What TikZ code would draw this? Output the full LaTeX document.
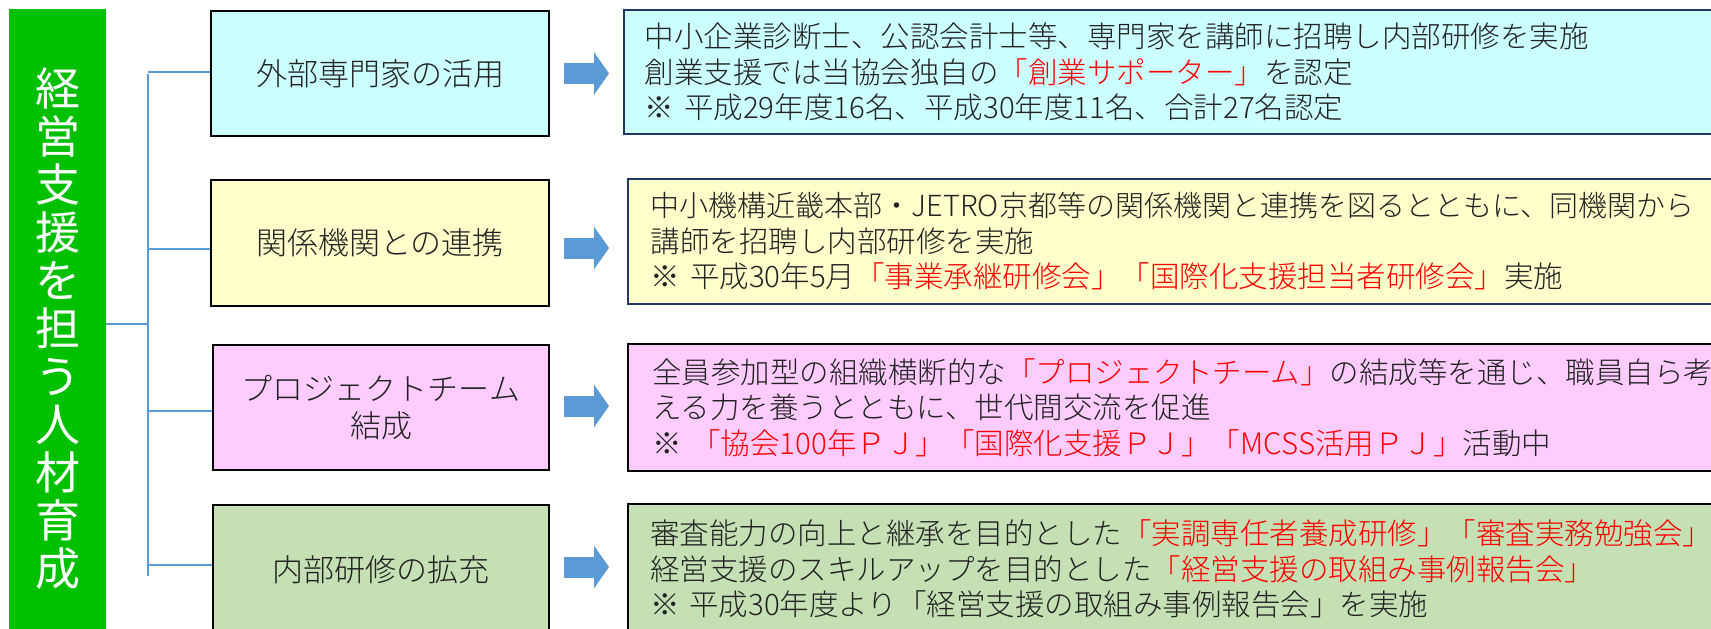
\documentclass[tikz,border=0pt]{standalone}
\usepackage{fontspec}
\setmainfont{Noto Sans CJK JP Light}
\newfontfamily\titlefont{Noto Sans CJK JP}
\usetikzlibrary{arrows.meta,calc}
\definecolor{barg}{HTML}{00C000}
\definecolor{cyanf}{HTML}{CCFFFF}
\definecolor{yelf}{HTML}{FFFFCC}
\definecolor{pinkf}{HTML}{FFCCFF}
\definecolor{greenf}{HTML}{C5E0B4}
\definecolor{navy}{HTML}{1F3864}
\definecolor{ablue}{HTML}{5B9BD5}
\definecolor{txt}{HTML}{222222}
\definecolor{redt}{HTML}{FF0000}
\newcommand\redtxt[1]{\textcolor{redt}{#1}}
\tikzset{
  titlebar/.style={fill=barg, text=white, inner sep=0pt, align=center,
    minimum width=97pt, minimum height=640pt, font=\titlefont\fontsize{45}{48}\selectfont},
  lbox/.style={draw=black, line width=1.8pt, inner sep=0pt, align=center, text=txt,
    font=\fontsize{31}{37}\selectfont},
  rbox/.style={line width=1.6pt, anchor=west, inner ysep=0pt, align=left, text=txt,
    text width=1150pt, font=\fontsize{29.5}{35.5}\selectfont},
  conn/.style={draw=ablue, line width=1.3pt},
  bigarrow/.style={draw=ablue, line width=21pt, -{Triangle[length=15pt,width=42pt]}},
}
\begin{document}
\begin{tikzpicture}[x=1pt,y=-1pt]
\useasboundingbox (0,0) rectangle (1711,629);
\clip (0,0) rectangle (1711,629);
% title bar
\node[titlebar] (bar) at (57.5,329) {経\\営\\支\\援\\を\\担\\う\\人\\材\\育\\成};
% left boxes
\node[lbox, fill=cyanf, minimum width=338pt, minimum height=125pt] (l1) at (380,73.5) {外部専門家の活用};
\node[lbox, fill=yelf, minimum width=338pt, minimum height=126pt] (l2) at (380,243) {関係機関との連携};
\node[lbox, fill=pinkf, minimum width=336pt, minimum height=125pt] (l3) at (381,407.5) {プロジェクトチーム\\結成};
\node[lbox, fill=greenf, minimum width=336pt, minimum height=130pt] (l4) at (381,570) {内部研修の拡充};
% right boxes
\node[rbox, draw=navy, fill=cyanf, minimum height=124pt, inner xsep=21pt] (r1) at (623,72)
  {中小企業診断士、公認会計士等、専門家を講師に招聘し内部研修を実施\\
   創業支援では当協会独自の\redtxt{「創業サポーター」}を認定\\
   ※ 平成29年度16名、平成30年度11名、合計27名認定};
\node[rbox, draw=navy, fill=yelf, minimum height=125pt, inner xsep=23pt] (r2) at (627,241.5)
  {{\fontsize{29}{35.5}\selectfont 中小機構近畿本部・JETRO京都等の関係機関と連携を図るとともに、同機関から}\\
   講師を招聘し内部研修を実施\\
   ※ 平成30年5月\redtxt{「事業承継研修会」「国際化支援担当者研修会」}実施};
\node[rbox, draw=black, line width=2.2pt, fill=pinkf, minimum height=127pt, inner xsep=24pt] (r3) at (627,407.5)
  {全員参加型の組織横断的な\redtxt{「プロジェクトチーム」}の結成等を通じ、職員自ら考\\
   える力を養うとともに、世代間交流を促進\\
   ※ \redtxt{「協会100年ＰＪ」「国際化支援ＰＪ」「MCSS活用ＰＪ」}活動中};
\node[rbox, draw=black, line width=2.2pt, fill=greenf, minimum height=130pt, inner xsep=22pt] (r4) at (627,569)
  {審査能力の向上と継承を目的とした\redtxt{「実調専任者養成研修」「審査実務勉強会」}\\
   経営支援のスキルアップを目的とした\redtxt{「経営支援の取組み事例報告会」}\\
   ※ 平成30年度より「経営支援の取組み事例報告会」を実施};
% connectors
\coordinate (hub) at (148,324);
\draw[conn] (bar.east |- hub) -- (hub);
\draw[conn] (hub |- l1.west) -- ([yshift=-5.5pt]hub |- l4.west);
\draw[conn] ([yshift=1.5pt]hub |- l1.west) -- ([yshift=1.5pt]l1.west);
\draw[conn] ([yshift=-6pt]hub |- l2.west) -- ([yshift=-6pt]l2.west);
\draw[conn] ([yshift=-3.5pt]hub |- l3.west) -- ([yshift=-3.5pt]l3.west);
\draw[conn] ([yshift=5pt]hub |- l4.west) -- ([yshift=5pt]l4.west);
% block arrows
\draw[bigarrow] ([xshift=14pt]l1.east) -- ([xshift=-14pt]r1.west |- l1.east);
\draw[bigarrow] ([xshift=14pt,yshift=-5pt]l2.east) -- ([xshift=-18pt,yshift=-5pt]r2.west |- l2.east);
\draw[bigarrow] ([xshift=14pt,yshift=1.5pt]l3.east) -- ([xshift=-18pt,yshift=1.5pt]r3.west |- l3.east);
\draw[bigarrow] ([xshift=14pt,yshift=3pt]l4.east) -- ([xshift=-18pt,yshift=3pt]r4.west |- l4.east);
\end{tikzpicture}
\end{document}
